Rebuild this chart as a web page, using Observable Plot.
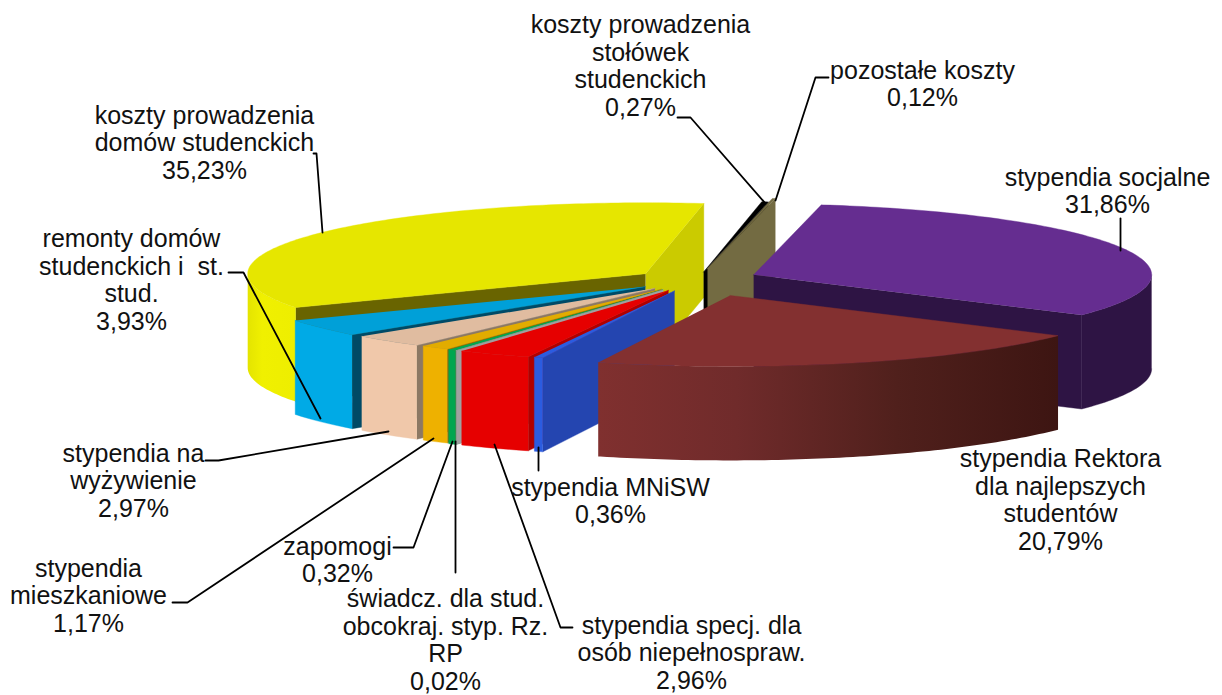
<!DOCTYPE html>
<html lang="pl">
<head>
<meta charset="utf-8">
<script src="https://cdn.jsdelivr.net/npm/d3@7"></script>
<script src="https://cdn.jsdelivr.net/npm/@observablehq/plot@0.6"></script>
<style>html,body{margin:0;padding:0;background:#fff}svg{display:block}</style>
</head>
<body>
<div id="chart"></div>
<script>
// ---- data: clockwise from the top of the pie
const names = ["stypendia socjalne","stypendia Rektora dla najlepszych studentów","stypendia MNiSW","stypendia specj. dla osób niepełnospraw.","świadcz. dla stud. obcokraj. styp. Rz. RP","zapomogi","stypendia mieszkaniowe","stypendia na wyżywienie","remonty domów studenckich i st. stud.","koszty prowadzenia domów studenckich","koszty prowadzenia stołówek studenckich","pozostałe koszty"];
const values = [31.86,20.79,0.36,2.96,0.02,0.32,1.17,2.97,3.93,35.23,0.27,0.12];
const labelTexts = [
  "stypendia socjalne\n31,86%",
  "stypendia Rektora\ndla najlepszych\nstudentów\n20,79%",
  "stypendia MNiSW\n0,36%",
  "stypendia specj. dla\nosób niepełnospraw.\n2,96%",
  "świadcz. dla stud.\nobcokraj. styp. Rz.\nRP\n0,02%",
  "zapomogi\n0,32%",
  "stypendia\nmieszkaniowe\n1,17%",
  "stypendia na\nwyżywienie\n2,97%",
  "remonty domów\nstudenckich i  st.\nstud.\n3,93%",
  "koszty prowadzenia\ndomów studenckich\n35,23%",
  "koszty prowadzenia\nstołówek\nstudenckich\n0,27%",
  "pozostałe koszty\n0,12%"
];

// ---- styling, per slice
const topColors   = ["#652d90","#833030","#2b5ce0","#e60000","#a0a0a0","#00a650","#e2ac00","#e0bca0","#00a0d8","#e6e600","#000000","#736b42"];
const rimColors   = ["#2e1444","url(#brownWall)","#2b5ce0","#e60000","#a0a0a0","#00a650","#eeb100","#f0c8aa","#00aae6","url(#yellowWall)","#000000","#736b42"];
const sideColors  = ["#2e1444","#3f1613","#2445b0","#b00000","#a0a0a0","#00803e","#8f6b00","#8c7864","#004a66","#696400","#000000","#736b42"];
const sideEndColors = ["#2e1444","#3f1613","#2445b0","#b00000","#a0a0a0","#00803e","#8f6b00","#8c7864","#004a66","#cbcb00","#000000","#736b42"];
const explode     = [62,108,64,64,64,64,62,62,63,62,46,66];
const lift        = [-1,-3,0,0,0,0,0,0,0,0,0,0];
const paintOrder  = [9,10,11,0,8,7,6,5,4,3,2,1];

// ---- pie projection
const centerX = 696, centerY = 279.6, radiusX = 398, radiusY = 71, depth = 94, startAngle = -80.2;

// ---- label layout
const labelX = [1107,1060,610,691,445,337,88,133,131,204,640,922];
const labelY = [190,499,500,652,639,559,595,480,279,142,65,83];
const leaders = [
  {x: [1120,1120], y: [218,250]},
  {x: [538,538], y: [447,470]},
  {x: [494,560,572], y: [444,627,627]},
  {x: [455,455], y: [441,572]},
  {x: [452,413,393], y: [441,547,547]},
  {x: [433,187,172], y: [438,602,602]},
  {x: [388,218,205], y: [431,460,460]},
  {x: [320,243,228], y: [418,272,272]},
  {x: [322,316,313], y: [232,153,153]},
  {x: [765,690,677], y: [203,117,117]},
  {x: [775,815,828], y: [200,77,77]}
];

const rad = d => d * Math.PI / 180;
const pieces = [];
let acc = startAngle;
const slices = values.map((v, i) => {
  const a0 = acc, a1 = acc + v * 3.6;
  acc = a1;
  const mid = rad((a0 + a1) / 2);
  return {i, a0, a1, cx: centerX + explode[i] * Math.cos(mid), cy: centerY + lift[i] + explode[i] * radiusY / radiusX * Math.sin(mid)};
});
const rim = (s, a, dz = 0) => ({x: s.cx + radiusX * Math.cos(rad(a)), y: s.cy + radiusY * Math.sin(rad(a)) + dz});
const arcAngles = (a0, a1) => {
  const out = [a0];
  for (let a = Math.ceil(a0); a < a1; a++) if (a > a0) out.push(a);
  out.push(a1);
  return out;
};
for (const k of paintOrder) {
  const s = slices[k];
  const apex = {x: s.cx, y: s.cy}, apexLow = {x: s.cx, y: s.cy + depth};
  // radial walls that face the viewer
  if (Math.sin(rad(s.a0 - 90)) > 0)
    pieces.push({pts: [apex, rim(s, s.a0), rim(s, s.a0, depth), apexLow], fill: sideColors[k]});
  if (Math.sin(rad(s.a1 + 90)) > 0)
    pieces.push({pts: [apex, rim(s, s.a1), rim(s, s.a1, depth), apexLow], fill: sideEndColors[k]});
  // outer wall: the front half of the ellipse only
  const w0 = Math.max(s.a0, 0), w1 = Math.min(s.a1, 180);
  if (w1 > w0) {
    const as = arcAngles(w0, w1);
    pieces.push({pts: [...as.map(a => rim(s, a)), ...as.slice().reverse().map(a => rim(s, a, depth))], fill: rimColors[k]});
  }
  // top face
  pieces.push({pts: [apex, ...arcAngles(s.a0, s.a1).map(a => rim(s, a))], fill: topColors[k]});
}

const gradient = (id, stops) => {
  const g = document.createElementNS("http://www.w3.org/2000/svg", "linearGradient");
  g.setAttribute("id", id);
  stops.forEach(([o, c]) => {
    const st = document.createElementNS("http://www.w3.org/2000/svg", "stop");
    st.setAttribute("offset", o); st.setAttribute("stop-color", c);
    g.appendChild(st);
  });
  return g;
};
const defsMark = () => {
  const d = document.createElementNS("http://www.w3.org/2000/svg", "defs");
  d.appendChild(gradient("brownWall", [[0,"#80302f"],[0.3,"#702b2b"],[0.65,"#50201c"],[1,"#3d1512"]]));
  d.appendChild(gradient("yellowWall", [[0,"#e4e400"],[0.3,"#f0f000"],[1,"#eeee00"]]));
  return d;
};

const labels = labelTexts.map((text, i) => ({text, x: labelX[i], y: labelY[i]}));

const chart = Plot.plot({
  width: 1222, height: 695,
  margin: 0,
  x: {axis: null, domain: [0, 1222], range: [0, 1222]},
  y: {axis: null, domain: [0, 695], range: [0, 695]},
  style: {fontFamily: "'Liberation Sans', Arial, sans-serif", background: "#fff"},
  marks: [
    defsMark,
    ...pieces.map(p => Plot.line(p.pts, {
      x: "x", y: "y", fill: p.fill, stroke: p.fill.startsWith("url") ? "none" : p.fill, strokeWidth: 0.4
    })),
    ...leaders.map(l => Plot.line(l.x.map((x, n) => ({x, y: l.y[n]})), {x: "x", y: "y", stroke: "#000", strokeWidth: 1.8})),
    Plot.text(labels, {
      x: "x", y: "y", text: "text", textAnchor: "middle", lineAnchor: "middle",
      fontSize: 25, lineHeight: 1.11, fill: "#111"
    })
  ]
});
document.getElementById("chart").appendChild(chart);
</script>
</body>
</html>
